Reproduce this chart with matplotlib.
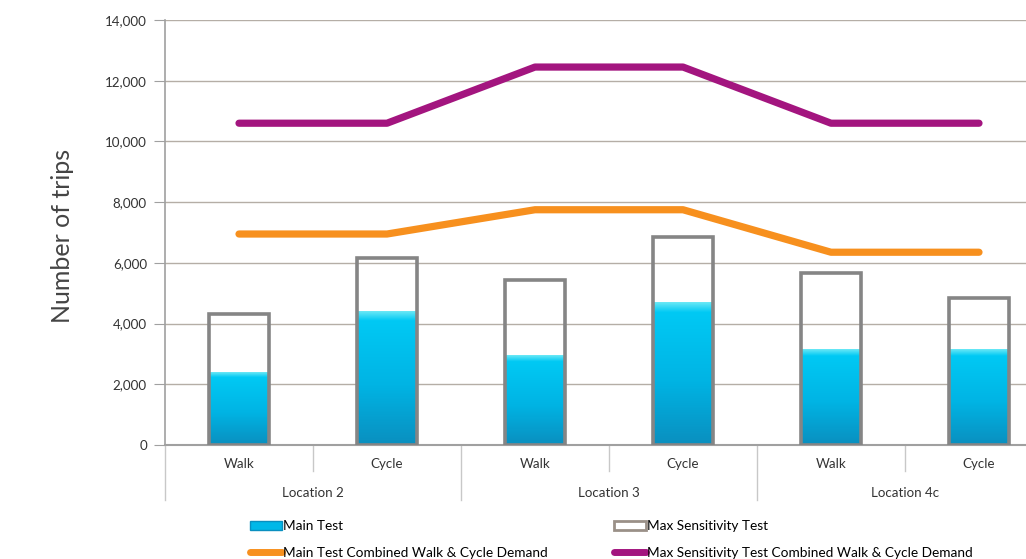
import numpy as np
import matplotlib
matplotlib.use("Agg")
import matplotlib.pyplot as plt
from matplotlib.colors import LinearSegmentedColormap
from matplotlib.patches import Patch
from matplotlib.lines import Line2D
import matplotlib.transforms as mtransforms

plt.rcParams['font.family'] = ['Lato', 'DejaVu Sans']

# data
modes = ['Walk', 'Cycle', 'Walk', 'Cycle', 'Walk', 'Cycle']
locations = ['Location 2', 'Location 3', 'Location 4c']
main_test = [2400, 4400, 2950, 4700, 3150, 3150]
max_sens = [4300, 6150, 5450, 6850, 5650, 4850]
main_combined = [6950, 6950, 7750, 7750, 6350, 6350]
max_combined = [10600, 10600, 12450, 12450, 10600, 10600]

W, H = 1026, 559
fs = 9.6
fig = plt.figure(figsize=(W / 100, H / 100), dpi=100)
# plot area runs a bit past the right edge of the picture, as in the original
ax = fig.add_axes([165 / W, 114 / H, (1053 - 165) / W, 425 / H])

x = np.arange(len(modes))
bw = 0.41
cmap = LinearSegmentedColormap.from_list(
    'cyan', [(0, '#0a8fbf'), (0.45, '#00b4e4'), (0.93, '#00c9f4'), (1, '#6ae8f6')])
grad = np.linspace(0, 1, 256).reshape(-1, 1)

for xi, h in zip(x, main_test):
    ax.imshow(grad, extent=[xi - bw / 2, xi + bw / 2, 0, h], origin='lower',
              aspect='auto', cmap=cmap, zorder=2)

ax.bar(x, max_sens, width=bw, facecolor='none', edgecolor='#858585',
       linewidth=2.6, zorder=3)

ax.plot(x, main_combined, color='#f7901e', lw=5.2, solid_capstyle='round', zorder=4)
ax.plot(x, max_combined, color='#a3157f', lw=5.2, solid_capstyle='round', zorder=4)

ax.set_xlim(-0.5, 5.5)
ax.set_ylim(0, 14000)
ax.set_yticks(np.arange(0, 14001, 2000))
ax.set_yticklabels([f'{v:,}' for v in range(0, 14001, 2000)])
ax.yaxis.grid(True, color='#b5aea6', lw=1)
ax.set_axisbelow(True)
ax.tick_params(axis='y', length=8, color='#a0a0a0', labelsize=fs,
               labelcolor='#333333', pad=5)

ax.set_xticks(x)
ax.set_xticklabels(modes)
ax.tick_params(axis='x', length=0, labelsize=fs, labelcolor='#333333', pad=9)

for s in ['top', 'right']:
    ax.spines[s].set_visible(False)
ax.spines['left'].set_color('#a0a0a0')
ax.spines['bottom'].set_color('#a0a0a0')
ax.spines['left'].set_linewidth(1.2)
ax.spines['bottom'].set_linewidth(1.5)

trans = mtransforms.blended_transform_factory(ax.transData, ax.transAxes)
for b in [-0.5, 1.5, 3.5, 5.5]:
    ax.plot([b, b], [0, -0.13], transform=trans, color='#c8c8c8', lw=1, clip_on=False)
for b in [0.5, 2.5, 4.5]:
    ax.plot([b, b], [0, -0.06], transform=trans, color='#c8c8c8', lw=1, clip_on=False)
for i, loc in enumerate(locations):
    ax.text(2 * i + 0.5, -0.113, loc, transform=trans, ha='center', va='center',
            fontsize=fs, color='#333333')

fig.text(62 / W, 1 - 236 / H, 'Number of trips', rotation=90, ha='center',
         va='center', fontsize=18, color='#444444')

handles = [
    Patch(facecolor='#00b8e8', edgecolor='#0a8fbf', label='Main Test'),
    Line2D([], [], color='#f7901e', lw=5, solid_capstyle='round',
           label='Main Test Combined Walk & Cycle Demand'),
    Patch(facecolor='white', edgecolor='#9a9088', lw=2, label='Max Sensitivity Test'),
    Line2D([], [], color='#a3157f', lw=5, solid_capstyle='round',
           label='Max Sensitivity Test Combined Walk & Cycle Demand'),
]
fig.legend(handles=handles, ncol=2, loc='upper left',
           bbox_to_anchor=(238 / W, 1 - 508 / H), frameon=False, fontsize=9.8,
           handlelength=2.3, handletextpad=0.1, columnspacing=4.9,
           labelspacing=1.05, handleheight=0.7)

fig.savefig('out.png', dpi=100)
